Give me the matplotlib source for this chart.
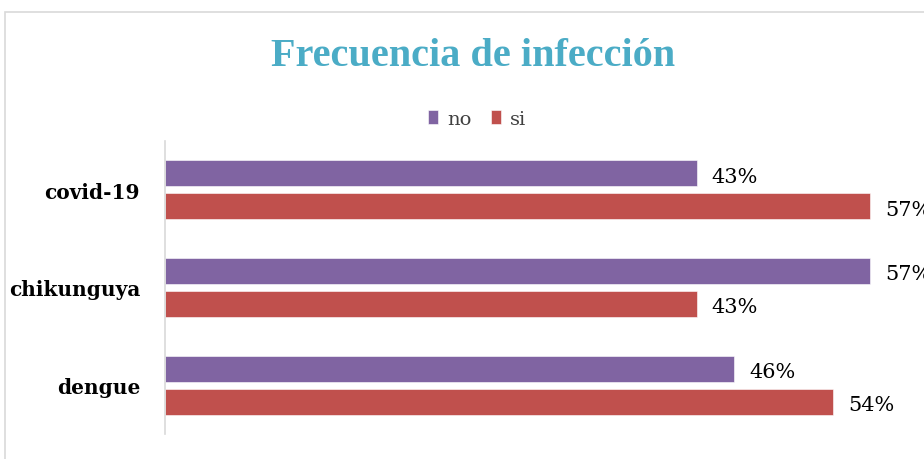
import matplotlib.pyplot as plt
import matplotlib.patches as mpatches
import numpy as np

# data
categories = ['covid-19', 'chikunguya', 'dengue']
no_vals = [43, 57, 46]
si_vals = [57, 43, 54]
series_names = ['no', 'si']

purple = '#8064A2'
red = '#C0504D'
teal = '#4BACC6'

plt.rcParams['font.family'] = ['DejaVu Serif']

fig = plt.figure(figsize=(9.24, 4.6), dpi=100)
W, H = 924, 460

# light chart border
fig.patches.append(mpatches.Rectangle((5 / W, -0.05), 1.1, 1 - 13 / H + 0.05,
                                      transform=fig.transFigure, fill=False,
                                      edgecolor='#D9D9D9', linewidth=1.2))

ax = fig.add_axes([165 / W, 1 - 435 / H, 1 - 165 / W, (435 - 142) / H])

y = np.arange(len(categories))
off = 0.169
h = 0.266
b1 = ax.barh(y - off, no_vals, height=h, color=purple, edgecolor='white', linewidth=0.4, label=series_names[0])
b2 = ax.barh(y + off, si_vals, height=h, color=red, edgecolor='white', linewidth=0.4, label=series_names[1])

for bars, vals in [(b1, no_vals), (b2, si_vals)]:
    for rect, v in zip(bars, vals):
        ax.annotate(f'{v}%', (rect.get_width(), rect.get_y() + rect.get_height() / 2),
                    xytext=(11, -2), textcoords='offset points', ha='left', va='center',
                    fontsize=15, color='black', annotation_clip=False, clip_on=False)

ax.set_xlim(0, 61.4)
ax.set_ylim(2.5, -0.5)
ax.set_yticks(y)
ax.set_yticklabels(categories, fontsize=14.5, fontweight='bold')
ax.tick_params(axis='y', length=0, pad=18)
ax.set_xticks([])
for s in ['top', 'right', 'bottom']:
    ax.spines[s].set_visible(False)
ax.spines['left'].set_color('#D9D9D9')
ax.spines['left'].set_linewidth(1.2)

fig.text(473 / W, 1 - 57 / H, 'Frecuencia de infección', ha='center', va='center',
         fontsize=29, fontweight='bold', color=teal, family='Liberation Serif')

fig.legend(handles=[b1, b2], labels=series_names, loc='center', bbox_to_anchor=(477 / W, 1 - 120 / H),
           ncol=2, frameon=False, fontsize=14, handlelength=0.55, handleheight=0.7,
           handletextpad=0.45, columnspacing=1.0, labelcolor='#404040')

fig.savefig('out.png', dpi=100)
